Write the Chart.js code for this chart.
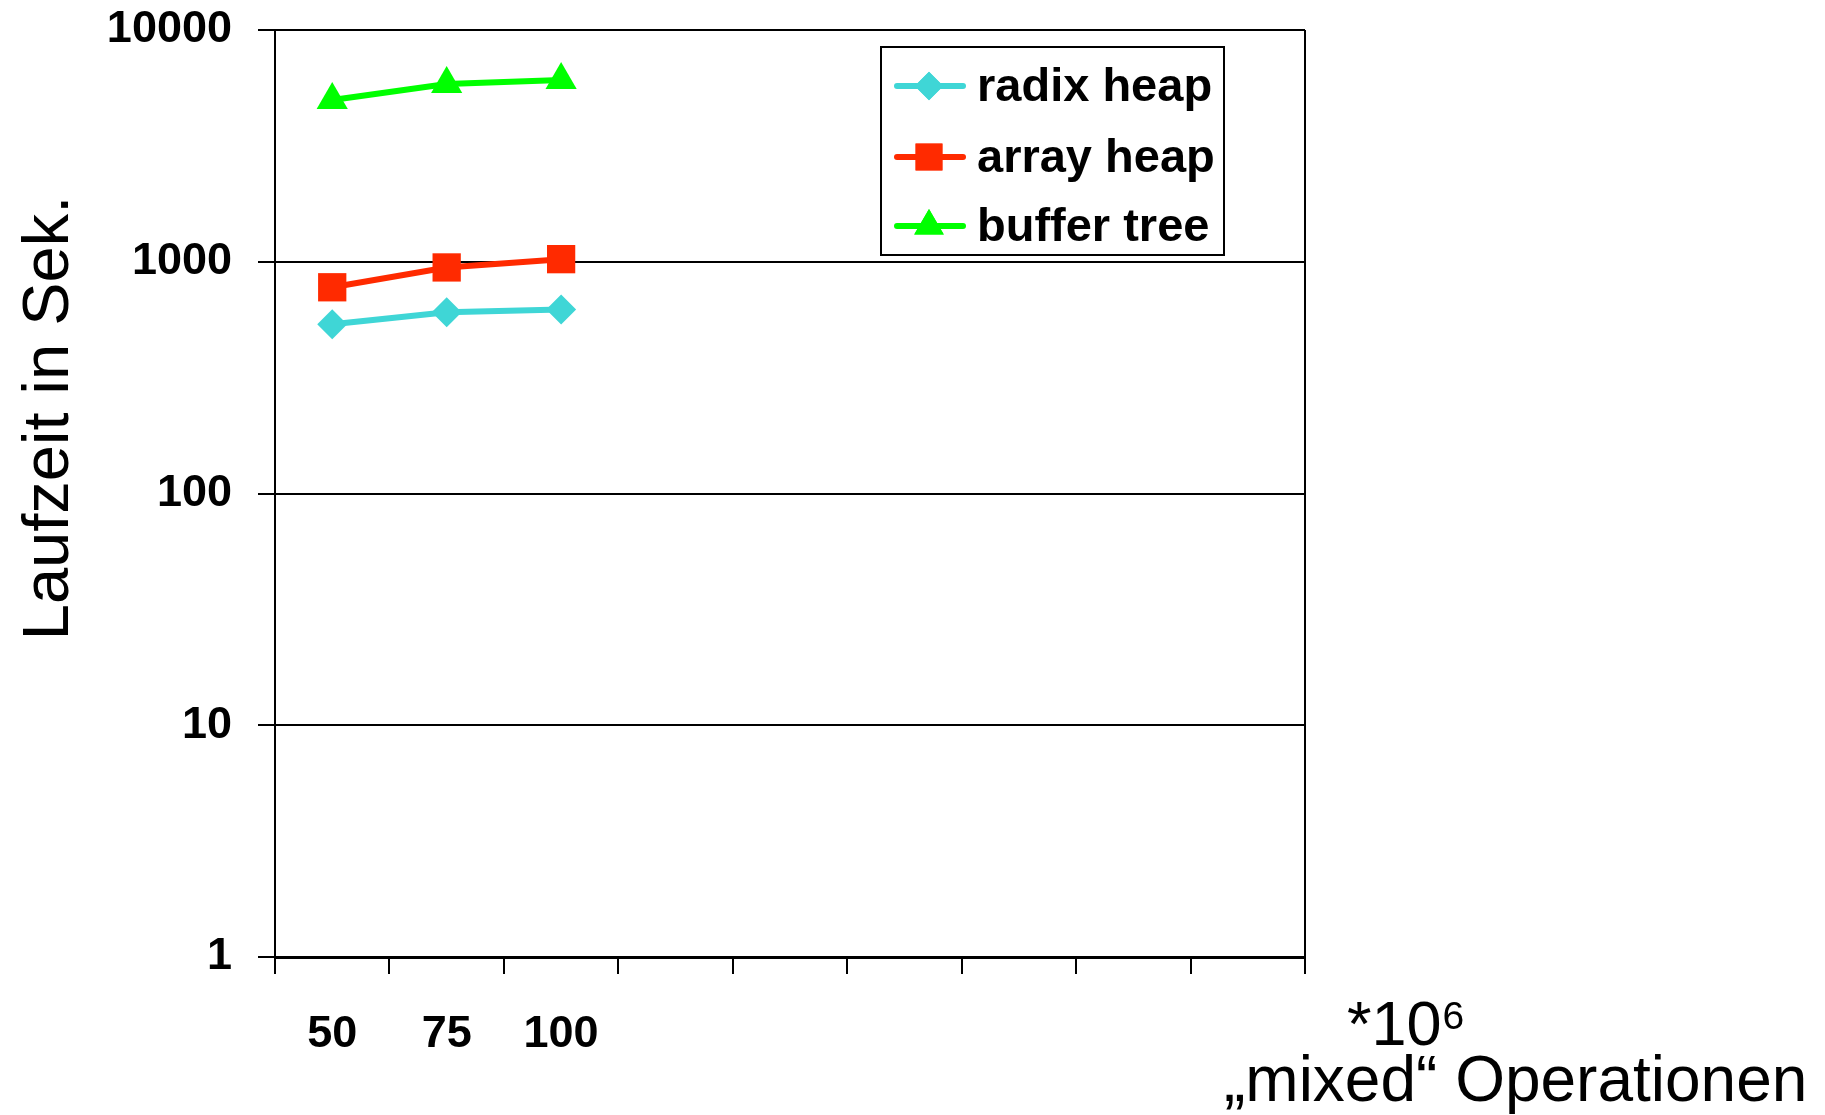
<!DOCTYPE html>
<html>
<head>
<meta charset="utf-8">
<script src="https://cdn.jsdelivr.net/npm/chart.js@4/dist/chart.umd.min.js"></script>
<style>
  html, body { margin: 0; padding: 0; background: #fff; }
  #wrap { position: relative; width: 1825px; height: 1115px; }
</style>
</head>
<body>
<div id="wrap"><canvas id="line-chart"></canvas></div>
<script>
// x categories (millions of operations), only the first three are used
const categories = ["50", "75", "100", "", "", "", "", "", ""];
// running time in seconds
const radixHeap = [537, 605, 623];
const arrayHeap = [776, 945, 1026];
const bufferTree = [4985, 5845, 6080];
const yTicks = [1, 10, 100, 1000, 10000];

const FONT = "'Liberation Sans', Arial, Helvetica, sans-serif";

const data = {
  labels: categories,
  datasets: [
    {
      label: "radix heap",
      data: radixHeap,
      borderColor: "#3fd6d6",
      backgroundColor: "#3fd6d6",
      pointStyle: "rectRot",
      pointRadius: 15,
    },
    {
      label: "array heap",
      data: arrayHeap,
      borderColor: "#ff2a00",
      backgroundColor: "#ff2a00",
      pointStyle: "rect",
      pointRadius: 20,
    },
    {
      label: "buffer tree",
      data: bufferTree,
      borderColor: "#00ff00",
      backgroundColor: "#00ff00",
      pointStyle: "triangle",
      pointRadius: 18,
    },
  ],
};

// legend box + axis titles, drawn on top
const extras = {
  id: "extras",
  afterDraw(chart) {
    const ctx = chart.ctx;
    ctx.save();

    // legend
    const bx = 881, by = 47, bw = 343, bh = 208;
    ctx.fillStyle = "#fff";
    ctx.fillRect(bx, by, bw, bh);
    ctx.strokeStyle = "#000";
    ctx.lineWidth = 2;
    ctx.strokeRect(bx, by, bw, bh);
    const rows = [86, 157, 226];
    chart.data.datasets.forEach((ds, i) => {
      const y = rows[i];
      ctx.strokeStyle = ds.borderColor;
      ctx.lineWidth = 6;
      ctx.lineCap = "round";
      ctx.beginPath();
      ctx.moveTo(897, y);
      ctx.lineTo(963, y);
      ctx.stroke();
      ctx.fillStyle = ds.backgroundColor;
      Chart.helpers.drawPoint(ctx, {
        pointStyle: ds.pointStyle,
        radius: ds.pointRadius * 0.95,
        borderWidth: 0,
        rotation: 0,
      }, 929, y);
      ctx.fill();
      ctx.fillStyle = "#000";
      ctx.font = "bold 47px " + FONT;
      ctx.textAlign = "left";
      ctx.textBaseline = "middle";
      ctx.fillText(ds.label, 977, y + 2);
    });

    // y axis title
    ctx.fillStyle = "#000";
    ctx.font = "65px " + FONT;
    ctx.translate(68, 418);
    ctx.rotate(-Math.PI / 2);
    ctx.textAlign = "center";
    ctx.textBaseline = "alphabetic";
    ctx.fillText("Laufzeit in Sek.", 0, 0);
    ctx.setTransform(1, 0, 0, 1, 0, 0);

    // x axis title
    ctx.textAlign = "left";
    ctx.font = "63px " + FONT;
    ctx.fillText("*10", 1347, 1045);
    const w = ctx.measureText("*10").width;
    ctx.font = "39px " + FONT;
    ctx.fillText("6", 1347 + w + 1, 1029);
    ctx.font = "64px " + FONT;
    ctx.fillText("\u201Emixed\u201C Operationen", 1224, 1101);
    ctx.restore();
  },
};

const config = {
  type: "line",
  data: data,
  options: {
    responsive: false,
    animation: false,
    layout: { padding: { left: 0, top: 30, right: 520, bottom: 0 } },
    elements: {
      line: { borderWidth: 6, tension: 0 },
      point: { borderWidth: 0, hoverRadius: 0 },
    },
    plugins: {
      legend: { display: false },
      tooltip: { enabled: false },
    },
    scales: {
      x: {
        type: "category",
        offset: true,
        grid: {
          offset: true,
          drawOnChartArea: true,
          drawTicks: true,
          tickLength: 17,
          tickColor: "#000",
          tickWidth: 2,
          lineWidth: 2,
          color: (c) => (c.type === "scale" ? "#000" : "rgba(0,0,0,0)"),
        },
        border: { display: true, color: "#000", width: 3 },
        ticks: {
          autoSkip: false,
          maxRotation: 0,
          padding: 34,
          color: "#000",
          font: { family: FONT, size: 45, weight: "bold" },
        },
        afterFit(scale) {
          scale.height = 158;
          scale.paddingLeft = 0;
          scale.paddingRight = 0;
        },
      },
      y: {
        type: "logarithmic",
        min: 1,
        max: 10000,
        afterBuildTicks(scale) {
          scale.ticks = yTicks.map((v) => ({ value: v }));
        },
        grid: {
          color: "#000",
          lineWidth: 2,
          tickLength: 17,
          tickColor: "#000",
          tickWidth: 2,
        },
        border: { display: true, color: "#000", width: 2 },
        ticks: {
          padding: 26,
          color: "#000",
          font: { family: FONT, size: 45, weight: "bold" },
          callback: (v) => String(v),
        },
        afterFit(scale) {
          scale.width = 275;
          scale.paddingTop = 0;
          scale.paddingBottom = 0;
        },
      },
    },
  },
  plugins: [extras],
};

const canvas = document.getElementById("line-chart");
canvas.width = 1825;
canvas.height = 1115;
window.myLine = new Chart(canvas.getContext("2d"), config);
</script>
</body>
</html>
